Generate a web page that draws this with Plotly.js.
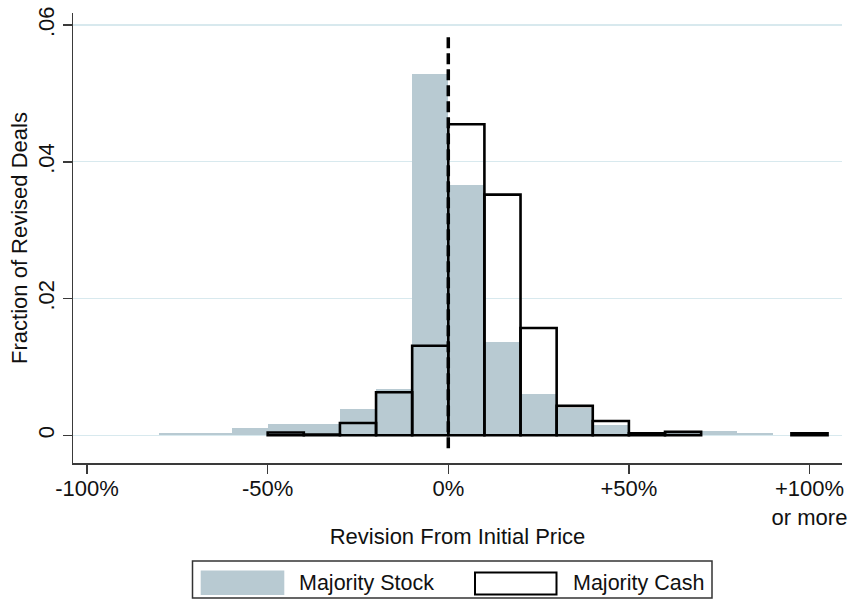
<!DOCTYPE html>
<html>
<head>
<meta charset="utf-8">
<script src="https://cdn.plot.ly/plotly-3.0.1.min.js"></script>
<style>
  html, body { margin: 0; padding: 0; background: #ffffff; }
  #chart { width: 848px; height: 599px; }
</style>
</head>
<body>
<div id="chart"></div>
<script>
// ---- Data ----
var stockBins = [-75, -65, -55, -45, -35, -25, -15, -5, 5, 15, 25, 35, 45, 55, 65, 75, 85, 100];
var stockFrac = [0.0003, 0.0003, 0.0010, 0.0017, 0.0017, 0.0039, 0.0068, 0.0528, 0.0366, 0.0136, 0.0061, 0.0040, 0.0015, 0.0003, 0.0003, 0.0007, 0.0003, 0.0002];

var cashBins = [-45, -35, -25, -15, -5, 5, 15, 25, 35, 45, 55, 65, 100];
var cashFrac = [0.0004, 0.0001, 0.0018, 0.0063, 0.0131, 0.0455, 0.0352, 0.0157, 0.0043, 0.0021, 0.0003, 0.0005, 0.0003];

var xTickVals = [-100, -50, 0, 50, 100];
var xTickText = ['-100%', '-50%', '0%', '+50%', '+100%<br>or more'];
var yTickVals = [0, 0.02, 0.04, 0.06];
var yTickText = ['0', '.02', '.04', '.06'];

var seriesNames = ['Majority Stock', 'Majority Cash'];
var refX = 0;                 // dashed reference line at 0%
var refLineY = [-0.0019, 0.0587];

// ---- Styling / layout ----
var binWidth = 10;
var FONT = 'Liberation Sans, Arial, Helvetica, sans-serif';
var FS = 22;
var stockColor = '#b8cad2';
var gridColor = '#d8e9ee';
var axisColor = '#3a3a3a';
var textColor = '#111111';

var M = {l: 73, r: 6, t: 13, b: 136};
var W = 848, H = 599;
var pw = W - M.l - M.r, ph = H - M.t - M.b;
function px(x) { return (x - M.l) / pw; }
function py(y) { return (H - M.b - y) / ph; }

var traces = [
  {
    type: 'bar', name: seriesNames[0], x: stockBins, y: stockFrac,
    width: stockBins.map(function(){return binWidth;}),
    marker: {color: stockColor, line: {width: 0}},
    hoverinfo: 'x+y', showlegend: false
  },
  {
    type: 'bar', name: seriesNames[1], x: cashBins, y: cashFrac,
    width: cashBins.map(function(){return binWidth;}),
    marker: {color: 'rgba(0,0,0,0)', line: {color: '#000000', width: 2.6}},
    hoverinfo: 'x+y', showlegend: false
  }
];

var shapes = [
  // dashed reference line
  {type: 'line', xref: 'x', yref: 'y', x0: refX, x1: refX, y0: refLineY[0], y1: refLineY[1],
   line: {color: '#000000', width: 3.5, dash: '11px,5px'}, layer: 'above'},
  // legend box
  {type: 'rect', xref: 'paper', yref: 'paper', x0: px(192.5), x1: px(712), y0: py(561), y1: py(598),
   line: {color: '#333333', width: 1.5}, fillcolor: 'rgba(0,0,0,0)'},
  // stock swatch
  {type: 'rect', xref: 'paper', yref: 'paper', x0: px(200.7), x1: px(284.3), y0: py(570.5), y1: py(595),
   line: {width: 0}, fillcolor: stockColor},
  // cash swatch
  {type: 'rect', xref: 'paper', yref: 'paper', x0: px(475), x1: px(556.5), y0: py(572.5), y1: py(594.5),
   line: {color: '#000000', width: 2}, fillcolor: 'rgba(0,0,0,0)'}
];

var annotations = [
  {xref: 'paper', yref: 'paper', x: px(297), y: py(583), xanchor: 'left', yanchor: 'middle',
   text: seriesNames[0], showarrow: false, font: {family: FONT, size: 21.5, color: textColor}},
  {xref: 'paper', yref: 'paper', x: px(571), y: py(583), xanchor: 'left', yanchor: 'middle',
   text: seriesNames[1], showarrow: false, font: {family: FONT, size: 21.5, color: textColor}}
];

var layout = {
  width: W, height: H,
  margin: M,
  paper_bgcolor: '#ffffff', plot_bgcolor: '#ffffff',
  barmode: 'overlay', bargap: 0,
  showlegend: false,
  font: {family: FONT, size: FS, color: textColor},
  xaxis: {
    range: [-103.9, 109.0],
    tickmode: 'array', tickvals: xTickVals, ticktext: xTickText,
    ticks: 'outside', ticklen: 9, tickwidth: 1.5, tickcolor: axisColor,
    ticklabelstandoff: -4,
    showline: true, linecolor: axisColor, linewidth: 1.5,
    showgrid: false, zeroline: false,
    tickfont: {family: FONT, size: FS, color: textColor},
    title: {text: 'Revision From Initial Price', font: {family: FONT, size: FS, color: textColor}, standoff: 0}
  },
  yaxis: {
    range: [-0.00405, 0.06176],
    tickmode: 'array', tickvals: yTickVals, ticktext: yTickText,
    tickangle: -90,
    ticks: 'outside', ticklen: 9, tickwidth: 1.5, tickcolor: axisColor,
    showline: true, linecolor: axisColor, linewidth: 1.5,
    showgrid: true, gridcolor: gridColor, gridwidth: 1.2, zeroline: false,
    tickfont: {family: FONT, size: FS, color: textColor},
    title: {text: 'Fraction of Revised Deals', font: {family: FONT, size: FS, color: textColor}, standoff: 0}
  },
  shapes: shapes,
  annotations: annotations
};

Plotly.newPlot('chart', traces, layout, {displayModeBar: false, staticPlot: true});
</script>
</body>
</html>
